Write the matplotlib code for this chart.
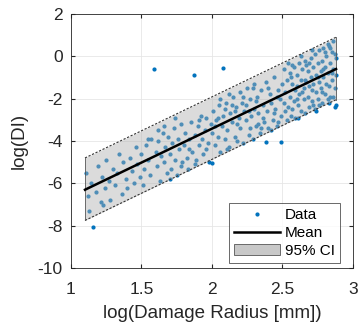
import matplotlib
matplotlib.use('Agg')
import matplotlib.pyplot as plt
from matplotlib.patches import Patch
from matplotlib.lines import Line2D

plt.rcParams['font.family'] = ['Liberation Sans', 'DejaVu Sans']
plt.rcParams['axes.unicode_minus'] = False

# scattered data (log damage radius, log DI)
data_x = [1.11, 1.12, 1.14, 1.16, 1.18, 1.19, 1.21, 1.22, 1.24, 1.25, 1.27, 1.28, 1.30, 1.31, 1.33,
          1.34, 1.36, 1.37, 1.39, 1.40, 1.42, 1.43, 1.45, 1.46, 1.47, 1.49, 1.50, 1.51, 1.13, 1.23,
          1.52, 1.53, 1.55, 1.56, 1.57, 1.59, 1.60, 1.61, 1.62, 1.63, 1.64, 1.65, 1.66, 1.67, 1.68,
          1.69, 1.70, 1.71, 1.72, 1.73, 1.74, 1.75, 1.76, 1.77, 1.78, 1.79, 1.80, 1.81, 1.82, 1.83,
          1.84, 1.85, 1.86, 1.87, 1.88, 1.89, 1.90, 1.91, 1.92, 1.93, 1.94, 1.95, 1.96, 1.97, 1.98,
          1.99, 1.62, 1.70, 1.78, 1.84, 1.91, 1.96, 1.55, 1.66, 1.74, 1.88,
          2.00, 2.00, 2.01, 2.02, 2.03, 2.04, 2.05, 2.06, 2.07, 2.08, 2.08, 2.09, 2.10, 2.11, 2.12,
          2.13, 2.14, 2.15, 2.16, 2.17, 2.18, 2.19, 2.20, 2.20, 2.21, 2.22, 2.23, 2.24, 2.25, 2.26,
          2.27, 2.28, 2.29, 2.30, 2.30, 2.31, 2.32, 2.33, 2.34, 2.35, 2.36, 2.37, 2.38, 2.38, 2.39,
          2.40, 2.41, 2.42, 2.43, 2.44, 2.45, 2.46, 2.47, 2.48, 2.49, 2.49, 2.50, 2.02, 2.06, 2.11,
          2.14, 2.18, 2.22, 2.26, 2.29, 2.33, 2.36, 2.40, 2.44, 2.47, 2.04, 2.09, 2.16, 2.24, 2.31,
          2.35, 2.42, 2.46, 2.12, 2.27,
          2.51, 2.51, 2.52, 2.53, 2.53, 2.54, 2.55, 2.55, 2.56, 2.57, 2.57, 2.58, 2.59, 2.59, 2.60,
          2.60, 2.61, 2.62, 2.62, 2.63, 2.63, 2.64, 2.65, 2.65, 2.66, 2.66, 2.67, 2.68, 2.68, 2.69,
          2.70, 2.70, 2.71, 2.71, 2.72, 2.72, 2.73, 2.73, 2.74, 2.74, 2.75, 2.75, 2.76, 2.76, 2.77,
          2.77, 2.78, 2.78, 2.79, 2.79, 2.80, 2.80, 2.81, 2.81, 2.82, 2.82, 2.83, 2.83, 2.84, 2.84,
          2.85, 2.85, 2.86, 2.86, 2.87, 2.87, 2.88, 2.88, 2.52, 2.56, 2.58, 2.61, 2.64, 2.67, 2.69,
          2.72, 2.75, 2.78, 2.80, 2.83, 2.86, 2.54, 2.60, 2.66, 2.71, 2.76, 2.82, 2.85, 2.87, 2.57,
          2.63, 2.69, 2.74, 2.79, 2.84, 2.88]
data_y = [-5.5, -6.6, -6.0, -8.05, -6.4, -5.2, -6.9, -5.7, -6.2, -4.9, -5.9, -6.8, -5.3, -6.1, -5.5,
          -4.6, -6.5, -5.0, -5.8, -6.2, -4.8, -5.4, -6.0, -4.3, -5.1, -5.7, -4.6, -6.1, -7.3, -7.0,
          -5.3, -4.2, -4.9, -5.6, -3.9, -0.6, -4.5, -5.2, -4.0, -5.9, -4.7, -3.6, -5.0, -4.3, -5.5,
          -3.8, -4.6, -5.3, -4.1, -3.4, -4.9, -5.6, -3.9, -4.4, -3.2, -5.0, -4.2, -3.6, -4.8, -5.3,
          -3.9, -3.1, -4.5, -0.9, -3.7, -4.9, -3.3, -4.2, -2.8, -3.9, -4.6, -3.5, -2.9, -4.1, -5.0,
          -3.2, -3.5, -5.8, -5.2, -4.4, -3.0, -4.4, -3.9, -3.3, -2.9, -5.1,
          -3.6, -5.05, -2.6, -4.2, -3.0, -3.8, -2.3, -4.5, -3.3, -0.57, -2.8, -3.9, -2.2, -3.5, -4.3,
          -2.7, -3.1, -1.9, -3.8, -2.4, -4.0, -2.9, -1.7, -3.4, -2.2, -4.1, -2.6, -3.0, -1.5, -3.7,
          -2.0, -2.8, -3.9, -1.3, -2.5, -3.3, -1.9, -2.7, -3.6, -1.6, -2.3, -3.1, -4.05, -1.2, -2.6,
          -3.4, -1.8, -2.2, -3.0, -1.0, -2.5, -3.3, -1.6, -2.0, -4.05, -2.8, -1.3, -3.3, -2.0, -4.4,
          -2.3, -3.2, -1.9, -2.6, -1.5, -3.2, -2.9, -1.5, -2.7, -3.1, -2.9, -2.5, -2.6, -2.3, -2.1,
          -3.4, -3.5, -1.9, -1.8, -3.4,
          -2.2, -0.6, -1.7, -3.0, -1.1, -2.4, -0.8, -1.9, -2.8, -1.3, -0.4, -2.1, -1.6, -2.9, -0.9,
          -1.4, -2.3, -0.3, -1.8, -2.6, -1.1, -0.6, -2.0, -1.5, -2.7, -0.2, -1.2, -1.9, -0.7, -2.4,
          -1.0, -0.1, -1.6, -2.1, -0.5, -1.3, -2.5, 0.1, -0.9, -1.7, -0.3, -2.0, -1.2, 0.3, -0.7,
          -1.5, -2.2, -0.2, -1.0, 0.4, -1.8, -0.5, -1.3, 0.0, -2.0, -0.8, 0.5, -1.4, -0.3, -1.9,
          0.2, -1.1, -0.6, 0.7, -2.4, -1.5, -0.1, -0.9, -2.6, -1.0, -0.5, -2.9, -1.7, -0.4, -1.4,
          -2.3, -1.0, -1.7, 0.2, -2.2, -1.9, -0.3, -2.0, -1.1, 0.3, -2.3, 0.6, -0.8, 0.1, -2.5,
          0.0, -0.3, -2.6, -0.6, 0.4, -2.3]

# fitted mean and 95% confidence bounds at the ends of the data range
fit_x = [1.1, 2.88]
fit_mean = [-6.3, -0.6]
fit_lo = [-7.75, -2.05]
fit_hi = [-4.8, 0.9]

fig = plt.figure(figsize=(3.58, 3.31), dpi=100)
ax = fig.add_axes([0.198, 0.19, 0.788, 0.768])

ax.plot(data_x, data_y, '.', color='#0072BD', markersize=4, zorder=2)
ax.fill_between(fit_x, fit_lo, fit_hi, color='#b0b0b0', alpha=0.45, lw=0, zorder=3)
ax.plot(fit_x, fit_lo, '--', color='#333333', lw=0.8, dashes=(2, 1.5), zorder=4)
ax.plot(fit_x, fit_hi, '--', color='#333333', lw=0.8, dashes=(2, 1.5), zorder=4)
ax.plot([fit_x[0], fit_x[0]], [fit_lo[0], fit_hi[0]], color='#555555', lw=0.6, zorder=4)
ax.plot([fit_x[1], fit_x[1]], [fit_lo[1], fit_hi[1]], color='#555555', lw=0.6, zorder=4)
ax.plot(fit_x, fit_mean, color='black', lw=1.8, zorder=5)

ax.set_xlim(1, 3)
ax.set_ylim(-10, 2)
ax.set_xticks([1, 1.5, 2, 2.5, 3])
ax.set_xticklabels(['1', '1.5', '2', '2.5', '3'])
ax.set_yticks([-10, -8, -6, -4, -2, 0, 2])
ax.grid(True, color='#e6e6e6', lw=0.6)
ax.set_axisbelow(True)
ax.tick_params(direction='in', length=3, labelsize=12.5, colors='#262626', top=True, right=True)
ax.tick_params(axis='x', pad=10)
ax.tick_params(axis='y', pad=6)
for s in ax.spines.values():
    s.set_color('#262626')
    s.set_linewidth(0.6)

ax.set_xlabel('log(Damage Radius [mm])', fontsize=13.5, color='#262626', labelpad=6)
ax.set_ylabel('log(DI)', fontsize=13.5, color='#262626', labelpad=7)

handles = [Line2D([], [], ls='none', marker='.', color='#0072BD', markersize=4),
           Line2D([], [], color='black', lw=1.8),
           Patch(facecolor='#c8c8c8', edgecolor='#555555', lw=0.6)]
leg = ax.legend(handles, ['Data', 'Mean', '95% CI'], loc='lower right', fontsize=11,
                bbox_to_anchor=(0.954, 0.02), borderaxespad=0,
                fancybox=False, edgecolor='#262626', handlelength=3.0, handletextpad=0.3,
                borderpad=0.35, labelspacing=0.25)
leg.get_frame().set_linewidth(0.6)

fig.savefig('out.png', dpi=100)
